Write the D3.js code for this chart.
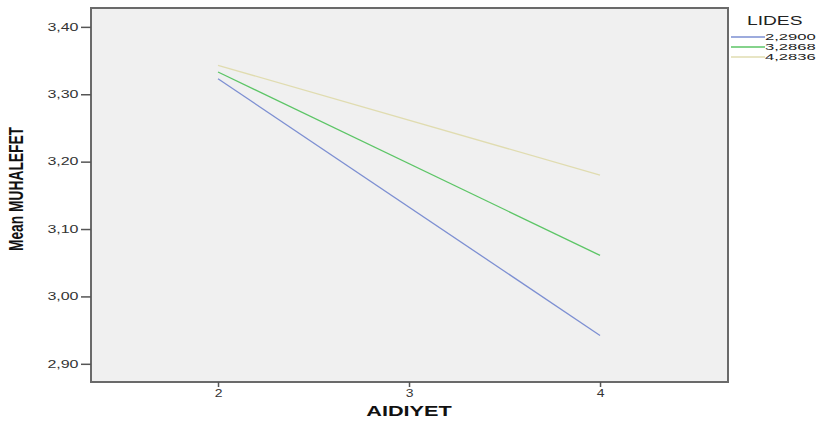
<!DOCTYPE html>
<html>
<head>
<meta charset="utf-8">
<script src="https://cdn.jsdelivr.net/npm/d3@7"></script>
<style>
  body { margin: 0; background: #fff; }
  svg { font-family: Arial, "Liberation Sans", sans-serif; }
</style>
</head>
<body>
<div id="main"></div>
<script>
// AIDIYET levels on the x axis
var aidiyet = [2, 4];
// one series per LIDES level
var lides = ["2,2900", "3,2868", "4,2836"];
var means = [
    [3.323, 2.942],
    [3.333, 3.061],
    [3.343, 3.180]
];
var colors = ["#7d8fd2", "#5cc566", "#e0dcb0"];
var xTicks = [2, 3, 4];
var yTicks = [2.9, 3.0, 3.1, 3.2, 3.3, 3.4];

var width = 818, height = 423;
var frame = {left: 91, right: 728, top: 8, bottom: 382};
// the original output is stretched sideways, so text is too
var stretch = 1.6;

var svg = d3.select("#main").append("svg")
    .attr("width", width)
    .attr("height", height);

var x = d3.scaleLinear().domain([1.335, 4.67]).range([frame.left, frame.right]);
var y = d3.scaleLinear().domain([2.873, 3.428]).range([frame.bottom, frame.top]);

svg.append("rect")
    .attr("x", frame.left)
    .attr("y", frame.top)
    .attr("width", frame.right - frame.left)
    .attr("height", frame.bottom - frame.top)
    .attr("fill", "#f0f0f0");

var line = d3.line()
    .x(function(d, i) { return x(aidiyet[i]); })
    .y(function(d) { return y(d); });

svg.selectAll(".series")
    .data(means)
    .enter()
    .append("path")
    .attr("class", "series")
    .attr("d", line)
    .attr("fill", "none")
    .attr("stroke", function(d, i) { return colors[i]; })
    .attr("stroke-width", 1.3);

// frame
svg.append("rect")
    .attr("x", frame.left)
    .attr("y", frame.top)
    .attr("width", frame.right - frame.left)
    .attr("height", frame.bottom - frame.top)
    .attr("fill", "none")
    .attr("stroke", "#6a6a6a")
    .attr("stroke-width", 2);

var fmt = function(d) { return d3.format(".2f")(d).replace(".", ","); };

var yAxis = svg.append("g")
    .attr("transform", "translate(" + frame.left + ",0)")
    .call(d3.axisLeft(y).tickValues(yTicks).tickSize(10).tickFormat(fmt));
var xAxis = svg.append("g")
    .attr("transform", "translate(0," + frame.bottom + ")")
    .call(d3.axisBottom(x).tickValues(xTicks).tickSize(5).tickPadding(3).tickFormat(d3.format("d")));

[yAxis, xAxis].forEach(function(a) {
    a.select(".domain").remove();
    a.selectAll(".tick line").attr("stroke", "#555").attr("stroke-width", 1.5);
    a.selectAll(".tick text")
        .attr("fill", "#333")
        .style("font-size", "10px");
});
yAxis.selectAll(".tick text")
    .attr("x", -12.5 / stretch)
    .attr("transform", "scale(" + stretch + ",1)");
xAxis.selectAll(".tick text")
    .attr("transform", "scale(1.4,1)");

svg.append("text")
    .attr("transform", "translate(" + x(3) + ",416) scale(1.55,1)")
    .attr("text-anchor", "middle")
    .style("font-size", "14px")
    .style("font-weight", "bold")
    .attr("fill", "#111")
    .text("AIDIYET");

svg.append("text")
    .attr("transform", "translate(23," + ((frame.top + frame.bottom) / 2 - 6) + ") rotate(-90) scale(1.15,1.75)")
    .attr("text-anchor", "middle")
    .style("font-size", "12px")
    .style("font-weight", "bold")
    .attr("fill", "#111")
    .text("Mean MUHALEFET");

// legend
var legend = svg.append("g");
legend.append("text")
    .attr("transform", "translate(747,25) scale(" + stretch + ",1)")
    .style("font-size", "12px")
    .attr("fill", "#222")
    .text("LIDES");

var item = legend.selectAll(".item")
    .data(lides)
    .enter()
    .append("g")
    .attr("class", "item")
    .attr("transform", function(d, i) { return "translate(0," + (37 + i * 10) + ")"; });
item.append("line")
    .attr("x1", 731).attr("x2", 765)
    .attr("stroke", function(d, i) { return colors[i]; })
    .attr("stroke-width", 1.3);
item.append("text")
    .attr("transform", "translate(765,0) scale(1.75,1)")
    .attr("dy", "0.35em")
    .style("font-size", "9.5px")
    .attr("fill", "#222")
    .text(function(d) { return d; });
</script>
</body>
</html>
